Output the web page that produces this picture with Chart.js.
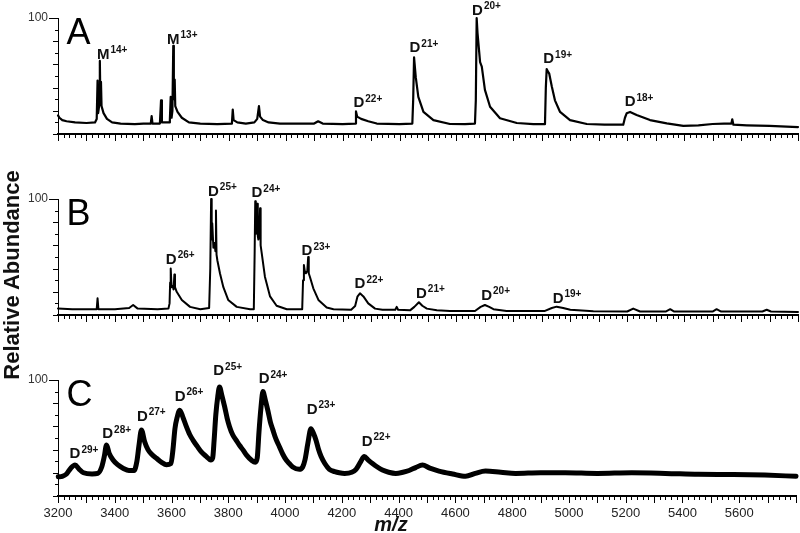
<!DOCTYPE html>
<html>
<head>
<meta charset="utf-8">
<script src="https://cdn.jsdelivr.net/npm/chart.js@4.4.0/dist/chart.umd.min.js"></script>
<style>
  body { margin: 0; background: #fff; }
  #wrap { position: relative; width: 800px; height: 533px; overflow: hidden; background: #fff; }
  #wrap canvas { position: absolute; left: 0; }
  #ytitle {
    position: absolute; left: -140px; top: 264px; width: 300px; height: 22px;
    line-height: 22px; text-align: center; color: #111;
    font: bold 22px 'Liberation Sans', Arial, sans-serif;
    transform: rotate(-90deg);
  }
</style>
</head>
<body>
<div id="wrap">
  <canvas id="chartA" width="800" height="150" style="top:0px"></canvas>
  <canvas id="chartB" width="800" height="170" style="top:160px"></canvas>
  <canvas id="chartC" width="800" height="193" style="top:340px"></canvas>
  <div id="ytitle">Relative Abundance</div>
</div>

<script>
// x range (m/z)
const xMin = 3200;
const xMax = 5800;

// Panel A spectrum
const mzA = [
  3200,3205,3215,3230,3260,3300,3330,3336,3339,3341,
  3345,3347,3349,3351,3353,3360,3372,3390,3420,3470,
  3500,3526,3529,3532,3558,3562,3565,3590,3593,3596,
  3599,3602,3605,3607,3610,3612,3620,3635,3660,3700,
  3760,3811,3814,3817,3830,3860,3890,3900,3906,3910,
  3920,3940,3980,4050,4100,4114,4130,4200,4244,4247,
  4251,4265,4290,4320,4400,4445,4448,4451,4457,4466,
  4484,4519,4577,4630,4665,4668,4671,4674,4683,4689,
  4700,4718,4753,4812,4870,4911,4914,4917,4921,4926,
  4935,4946,4964,4999,5058,5120,5186,5192,5198,5210,
  5233,5280,5339,5397,5450,5500,5540,5566,5569,5573,
  5620,5700,5800
];
const intA = [
  16,14,12,11,10,9.5,10,13,46,18,
  25,63,28,45,24,18,13,10,9,8.5,
  9,9,15.5,9,9,29,10,10,12,32,
  14,20,76,30,47,24,19,14,10,9,
  8.5,9,21,12,10,9,10,13,24,15,
  12,10,9,9,9,11,9,8.5,9,19.5,
  15,13,11,9,8.5,9,30,66,49,32,
  19,12,8.6,8.5,9,29,100,87,62,58,
  38,23.5,13.6,9.5,8.5,8.5,40,56,54,52,
  41,29,19,12,8.6,8,8,14,17.8,19,
  16.4,12,9.2,7,7.5,8.6,9,9,12.7,8,
  7.5,7,6
];

// Panel B spectrum
const mzB = [
  3200,3250,3320,3336,3339,3342,3400,3450,3464,3480,
  3550,3588,3592,3594,3596,3599,3603,3606,3609,3611,
  3617,3635,3664,3700,3731,3735,3738,3740,3742,3746,
  3750,3753,3755,3757,3760,3769,3781,3798,3828,3875,
  3888,3891,3893,3895,3898,3900,3902,3904,3907,3910,
  3912,3916,3927,3945,3968,4004,4058,4061,4064,4067,
  4071,4076,4079,4081,4085,4097,4115,4144,4168,4230,
  4244,4252,4261,4273,4290,4314,4340,4385,4390,4395,
  4437,4452,4468,4480,4496,4531,4577,4665,4685,4700,
  4715,4730,4776,4911,4935,4952,4975,5000,5081,5200,
  5221,5245,5335,5351,5365,5500,5514,5530,5675,5690,
  5705,5800
];
const intB = [
  5.5,5,5,5,14.4,5,5,6,8.6,5.5,
  5,5.5,10,28,40,24,25,22,35,24,
  20,13,7,5,6,40,100,65,79,58,
  62,55,90,52,47,36,24,13,7,5,
  5,55,98,70,75,96,68,65,70,92,
  60,53,33,16,8,5,5,30,43,38,
  36,38,50,36,33,23,13,6.5,5,4.5,
  7.7,15.8,18.7,16,10,5.5,4.5,4.5,7,4.5,
  4,7,11,8,5.5,4,3.5,3.5,7,8.6,
  7,5,3.5,3.5,6,7.2,6,4.5,3.2,3,
  5.5,3,3,5,3,3,5,3,3,4.5,
  3,2.5
];

// Panel C spectrum
const mzC = [
  3201,3215,3230,3245,3260,3275,3290,3320,3340,3354,
  3363,3371,3380,3394,3410,3429,3450,3468,3478,3486,
  3494,3505,3517,3530,3547,3565,3582,3598,3605,3612,
  3620,3629,3640,3652,3664,3676,3690,3705,3723,3738,
  3745,3750,3756,3763,3769,3777,3787,3796,3804,3815,
  3828,3840,3851,3865,3881,3895,3902,3908,3915,3922,
  3930,3939,3948,3957,3968,3980,3992,4004,4015,4027,
  4050,4062,4070,4080,4091,4100,4109,4118,4127,4140,
  4156,4175,4191,4210,4235,4250,4265,4279,4293,4308,
  4325,4343,4365,4390,4415,4437,4460,4484,4510,4542,
  4590,4636,4670,4706,4760,4812,4900,4987,5100,5221,
  5340,5456,5580,5690,5800
];
const intC = [
  16.6,17,19,24,26.7,23,20,19,19.5,25,
  34,44,37,31,27,24,22,22,30,45,
  57,47,40,36,32.5,29,27,28,40,58,
  68,74,68,60,53,48,43,38,34,31,
  33,48,70,86,94,87,77,67,60,53,
  48,43.5,40,35,31,29,33,55,76,90,
  83,74,64,57,49,42.5,36,31,28,25,
  23,25,31,45,58,54,48,40,34,28,
  23,21,20,19.5,20.5,23,29,34,31,28,
  25,22.4,20.5,19.5,20.5,22,24.5,26.7,24,21.5,
  19,17,19.5,21.5,20.5,19.5,20,20,19.5,20,
  19.5,18.7,18.5,18,17
];

// Peak annotations: ion letter, charge state, m/z and level of the label
const letterA = ['M','M','D','D','D','D','D'];
const chargeA = ['14+','13+','22+','21+','20+','19+','18+'];
const labelMzA = [3359,3605,4257,4454,4674,4924,5210];
const labelLevelA = [65,78,23,70.4,102.6,61,24];

const letterB = ['D','D','D','D','D','D','D','D'];
const chargeB = ['26+','25+','24+','23+','22+','21+','20+','19+'];
const labelMzB = [3598,3746,3899,4075,4261,4477,4706,4957];
const labelLevelB = [44,102.6,101.5,51.7,23,15,13,10.6];

const letterC = ['D','D','D','D','D','D','D','D'];
const chargeC = ['29+','28+','27+','26+','25+','24+','23+','22+'];
const labelMzC = [3260,3375,3497,3630,3766,3926,4095,4289];
const labelLevelC = [32.5,49.7,65,82,104,97,70.7,43.4];

const FONT = "'Liberation Sans', Arial, sans-serif";
Chart.defaults.font.family = FONT;

// tick marks: minor every 20, longer every 100 on x; every 10/20 on y
const axisTicks = {
  id: 'axisTicks',
  afterDraw(chart) {
    const { ctx, scales: { x, y } } = chart;
    ctx.save();
    ctx.strokeStyle = '#000';
    ctx.lineWidth = 1;
    ctx.beginPath();
    for (let v = xMin; v <= xMax; v += 20) {
      const px = Math.round(x.getPixelForValue(v)) + 0.5;
      const len = v % 100 === 0 ? 7 : 4;
      ctx.moveTo(px, y.bottom);
      ctx.lineTo(px, y.bottom + len);
    }
    for (let v = 0; v <= 100; v += 10) {
      const py = Math.round(y.getPixelForValue(v)) + 0.5;
      const len = v === 100 ? 9 : (v % 20 === 0 ? 5 : 3);
      ctx.moveTo(x.left, py);
      ctx.lineTo(x.left - len, py);
    }
    ctx.stroke();
    ctx.restore();
  }
};

// panel letter, peak labels with superscript charge, optional m/z title
const peakLabels = {
  id: 'peakLabels',
  afterDatasetsDraw(chart, args, opts) {
    const { ctx, chartArea, scales: { x, y } } = chart;
    ctx.save();
    ctx.fillStyle = '#000';
    ctx.textBaseline = 'alphabetic';
    ctx.textAlign = 'left';
    ctx.font = '36px ' + FONT;
    ctx.fillText(opts.panel, chartArea.left + 8.5, chartArea.top + 25.5);

    ctx.fillStyle = '#111';
    opts.mz.forEach((m, i) => {
      const px = x.getPixelForValue(m);
      const py = y.getPixelForValue(opts.level[i]);
      ctx.font = 'bold 15px ' + FONT;
      ctx.textAlign = 'center';
      ctx.fillText(opts.letter[i], px, py);
      const w = ctx.measureText(opts.letter[i]).width;
      ctx.font = 'bold 10px ' + FONT;
      ctx.textAlign = 'left';
      ctx.fillText(opts.charge[i], px + w / 2 + 1, py - 5.5);
    });

    if (opts.xTitle) {
      ctx.font = 'italic bold 20px ' + FONT;
      ctx.textAlign = 'center';
      ctx.fillText(opts.xTitle, 391, chartArea.bottom + 35);
    }
    ctx.restore();
  }
};

function makePanel(id, mz, inten, lineWidth, smooth, panel, labels, padTop, showX) {
  const canvas = document.getElementById(id);
  const xAxisHeight = canvas.height - padTop - 116;
  return new Chart(canvas, {
    type: 'line',
    data: {
      datasets: [{
        data: mz.map((m, i) => ({ x: m, y: inten[i] })),
        borderColor: '#000',
        borderWidth: lineWidth,
        borderJoinStyle: 'round',
        borderCapStyle: 'round',
        cubicInterpolationMode: smooth ? 'monotone' : 'default',
        pointRadius: 0,
        tension: 0,
        fill: false,
        clip: false
      }]
    },
    options: {
      responsive: false,
      animation: false,
      events: [],
      layout: { padding: { top: padTop, right: 2, left: 0, bottom: 0 } },
      plugins: {
        legend: { display: false },
        tooltip: { enabled: false },
        peakLabels: Object.assign({ panel: panel }, labels)
      },
      scales: {
        x: {
          type: 'linear',
          min: xMin,
          max: xMax,
          grid: { display: false, drawTicks: true, tickLength: 6 },
          border: { display: true, color: '#000', width: 2 },
          ticks: {
            display: showX,
            stepSize: 200,
            autoSkip: false,
            maxRotation: 0,
            padding: 4,
            color: '#222',
            font: { size: 13 },
            callback: v => (v < xMax ? String(v) : '')
          },
          afterFit: s => { s.height = xAxisHeight; }
        },
        y: {
          min: 0,
          max: 100,
          grid: { display: false, drawTicks: true, tickLength: 8 },
          border: { display: true, color: '#000', width: 1 },
          ticks: {
            stepSize: 100,
            padding: 2,
            color: '#333',
            font: { size: 12 },
            callback: v => (v === 100 ? '100' : '')
          },
          afterFit: s => { s.width = 58; }
        }
      }
    },
    plugins: [axisTicks, peakLabels]
  });
}

makePanel('chartA', mzA, intA, 2.2, false, 'A',
  { letter: letterA, charge: chargeA, mz: labelMzA, level: labelLevelA }, 18, false);
makePanel('chartB', mzB, intB, 2, false, 'B',
  { letter: letterB, charge: chargeB, mz: labelMzB, level: labelLevelB }, 39, false);
makePanel('chartC', mzC, intC, 5, true, 'C',
  { letter: letterC, charge: chargeC, mz: labelMzC, level: labelLevelC, xTitle: 'm/z' }, 40, true);
</script>
</body>
</html>
